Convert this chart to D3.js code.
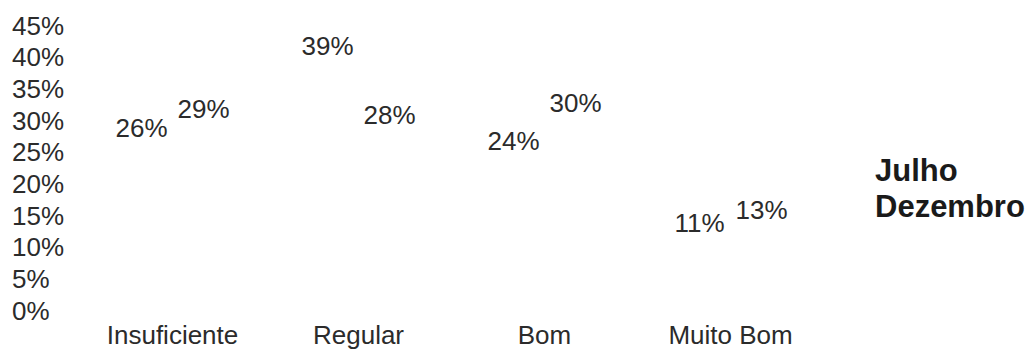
<!DOCTYPE html>
<html>
<head>
<meta charset="utf-8">
<script src="https://cdn.jsdelivr.net/npm/d3@7"></script>
<style>
  body { margin: 0; background: #fff; }
  text { font-family: "Liberation Sans", Arial, sans-serif; fill: #2b2b2b; }
</style>
</head>
<body>
<div id="chart"></div>
<script>
// data
const categories = ["Insuficiente", "Regular", "Bom", "Muito Bom"];
const series = ["Julho", "Dezembro"];
const julho = [0.26, 0.39, 0.24, 0.11];
const dezembro = [0.29, 0.28, 0.30, 0.13];
const yTicks = [0, 0.05, 0.10, 0.15, 0.20, 0.25, 0.30, 0.35, 0.40, 0.45];

const width = 1031;
const height = 349;

const svg = d3.select("#chart")
  .append("svg")
  .attr("width", width)
  .attr("height", height);

// scales
const x = d3.scaleBand()
  .domain(categories)
  .range([79.5, 823.5])
  .padding(0);

const xs = d3.scalePoint()
  .domain(series)
  .range([x.bandwidth() / 2 - 31, x.bandwidth() / 2 + 31]);

const y = d3.scaleLinear()
  .domain([0, 0.45])
  .range([310, 25]);

const fmt = d3.format(".0%");

// y axis (labels only)
const yAxis = svg.append("g")
  .attr("transform", "translate(12,0)")
  .call(d3.axisLeft(y).tickValues(yTicks).tickFormat(fmt).tickSize(0));
yAxis.select(".domain").remove();
yAxis.selectAll("text")
  .attr("x", 0)
  .attr("dy", "0.35em")
  .attr("text-anchor", "start")
  .style("font-size", "26px")
  .style("font-family", "Liberation Sans, Arial, sans-serif")
  .attr("fill", "#2b2b2b");

// x axis (category labels only)
const xAxis = svg.append("g")
  .attr("transform", "translate(0,335)")
  .call(d3.axisBottom(x).tickSize(0));
xAxis.select(".domain").remove();
xAxis.selectAll("text")
  .attr("y", 0)
  .attr("dy", "0.35em")
  .style("font-size", "26px")
  .style("font-family", "Liberation Sans, Arial, sans-serif")
  .attr("fill", "#2b2b2b");

// build rows for the bars
const rows = [];
categories.forEach((c, i) => {
  rows.push({ cat: c, s: "Julho", v: julho[i] });
  rows.push({ cat: c, s: "Dezembro", v: dezembro[i] });
});

// bars are white in the original, so they don't show
const barW = 48;
svg.append("g")
  .selectAll("rect")
  .data(rows)
  .enter()
  .append("rect")
  .attr("x", (d) => x(d.cat) + xs(d.s) - barW / 2)
  .attr("y", (d) => y(d.v))
  .attr("width", barW)
  .attr("height", (d) => y(0) - y(d.v))
  .attr("fill", "#fff");

// value labels
svg.append("g")
  .selectAll("text")
  .data(rows)
  .enter()
  .append("text")
  .attr("x", (d) => x(d.cat) + xs(d.s))
  .attr("y", (d) => y(d.v) - 17.5)
  .attr("dy", "0.35em")
  .attr("text-anchor", "middle")
  .style("font-size", "26px")
  .text((d) => fmt(d.v));

// legend
const legend = svg.append("g")
  .attr("transform", "translate(875,0)");
legend.selectAll("text")
  .data(series)
  .enter()
  .append("text")
  .attr("x", 0)
  .attr("y", (d, i) => 170 + i * 36)
  .attr("dy", "0.35em")
  .style("font-size", "31px")
  .style("font-weight", "bold")
  .style("fill", "#1a1a1a")
  .text((d) => d);
</script>
</body>
</html>
